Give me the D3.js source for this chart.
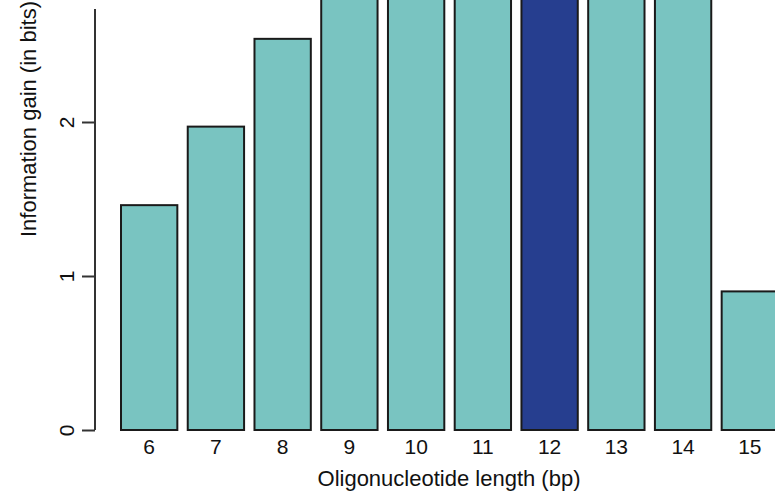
<!DOCTYPE html>
<html>
<head>
<meta charset="utf-8">
<script src="https://cdn.jsdelivr.net/npm/d3@7"></script>
<style>
  body { margin: 0; background: #fff; }
  svg { display: block; font-family: "Liberation Sans", Arial, sans-serif; }
</style>
</head>
<body>
<div id="chart"></div>
<script>
  // oligonucleotide lengths and information gain (bits); 9-14 run off the top
  var lengths = ["6", "7", "8", "9", "10", "11", "12", "13", "14", "15"];
  var gains = [1.46, 1.97, 2.54, 3.05, 3.3, 3.45, 3.55, 3.4, 3.2, 0.9];
  var highlight = ["12"];
  var yTicks = [0, 1, 2];

  var width = 775, height = 491;

  var svg = d3.select("#chart")
    .append("svg")
    .attr("width", width)
    .attr("height", height);

  var data = lengths.map(function(d, i) { return { len: d, gain: gains[i] }; });

  // y(0) at 430px, 154px per bit
  var y = d3.scaleLinear().domain([0, 430 / 154]).range([430, 0]);

  var x = d3.scaleBand()
    .domain(lengths)
    .range([115.8, 783.2])
    .paddingInner(0.156)
    .paddingOuter(0.078);

  // bars
  svg.selectAll("rect.bar")
    .data(data)
    .enter()
      .append("rect")
      .attr("class", "bar")
      .attr("x", function(d) { return x(d.len); })
      .attr("y", function(d) { return y(d.gain); })
      .attr("width", x.bandwidth())
      .attr("height", function(d) { return y(0) - y(d.gain); })
      .attr("fill", function(d) { return highlight.indexOf(d.len) >= 0 ? "#263E8F" : "#79C4C1"; })
      .attr("stroke", "#1a1a1a")
      .attr("stroke-width", 2);

  // y axis (R style: line spans ticks, rotated labels)
  var yAxis = svg.append("g")
    .attr("transform", "translate(95,0)")
    .call(d3.axisLeft(y).tickValues(yTicks).tickSize(13).tickPadding(0).tickFormat(d3.format("d")));

  yAxis.select(".domain")
    .attr("d", "M0," + y(0) + "V9")
    .attr("stroke", "#333")
    .attr("stroke-width", 2);
  yAxis.selectAll(".tick line").attr("stroke", "#333").attr("stroke-width", 2);
  yAxis.selectAll(".tick text")
    .attr("x", null).attr("dy", null)
    .attr("text-anchor", "middle")
    .attr("font-size", 21)
    .attr("fill", "#111")
    .attr("transform", "translate(-21,0) rotate(-90)");

  // x labels
  svg.append("g")
    .attr("transform", "translate(0,430)")
    .call(d3.axisBottom(x).tickSize(0).tickPadding(0))
    .call(function(g) {
      g.select(".domain").remove();
      g.selectAll(".tick text")
        .attr("y", 24).attr("dy", null)
        .attr("font-size", 21)
        .attr("fill", "#111");
    });

  // axis titles
  svg.append("text")
    .attr("x", 449)
    .attr("y", 486)
    .attr("text-anchor", "middle")
    .attr("font-size", 22)
    .attr("fill", "#111")
    .text("Oligonucleotide length (bp)");

  svg.append("text")
    .attr("transform", "translate(36,119) rotate(-90)")
    .attr("text-anchor", "middle")
    .attr("font-size", 22)
    .attr("fill", "#111")
    .text("Information gain (in bits)");
</script>
</body>
</html>
